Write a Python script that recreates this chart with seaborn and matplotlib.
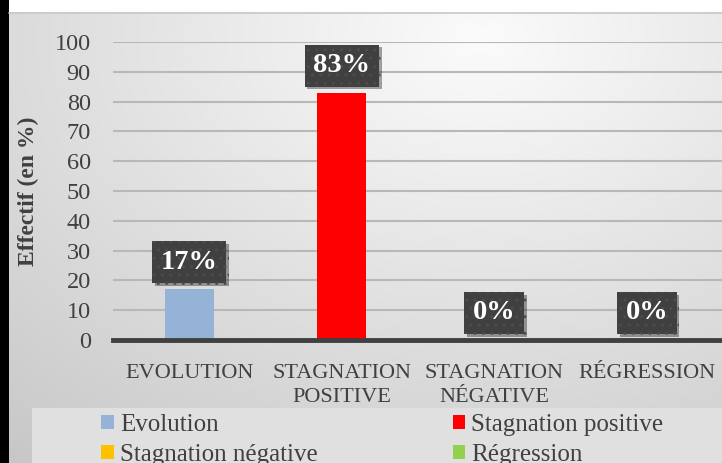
import numpy as np
import pandas as pd
import matplotlib
matplotlib.use("Agg")
import matplotlib.pyplot as plt
import seaborn as sns
from matplotlib import patheffects as pe
from matplotlib.patches import Rectangle

# ---- data ----
categories = ["EVOLUTION", "STAGNATION\nPOSITIVE", "STAGNATION\nNÉGATIVE", "RÉGRESSION"]
series_names = ["Evolution", "Stagnation positive", "Stagnation négative", "Régression"]
values = [17, 83, 0, 0]
value_labels = ["17%", "83%", "0%", "0%"]
colors = ["#95b3d7", "#ff0000", "#ffc000", "#92d050"]
yticks = [0, 10, 20, 30, 40, 50, 60, 70, 80, 90, 100]
ylabel = "Effectif (en %)"

sns.set_theme(style="white")
plt.rcParams["font.family"] = ["Liberation Serif", "DejaVu Serif"]
TXT = "#404040"

W, H = 722, 463
fig = plt.figure(figsize=(W / 100, H / 100), dpi=100)

# background gradient
bg = fig.add_axes([0, 0, 1, 1], zorder=-10)
yy, xx = np.mgrid[0:H, 0:W]
d = np.sqrt(((xx - 480) / 600.0) ** 2 + ((yy - 40) / 420.0) ** 2)
v = 0.985 - 0.16 * np.clip(d, 0, 1.3)
img = np.dstack([v, v, v])
bg.imshow(img, extent=[0, 1, 0, 1], aspect="auto", origin="upper")
bg.set_xlim(0, 1); bg.set_ylim(0, 1)
bg.axis("off")
bg.add_patch(Rectangle((0, 1 - 12 / H), 1, 12 / H, color="white", lw=0))
bg.plot([9 / W, 1], [1 - 12.5 / H, 1 - 12.5 / H], color="#c8c8c8", lw=1.2)
bg.add_patch(Rectangle((0, 0), 9 / W, 1, color="black", lw=0))
# legend band
bg.add_patch(Rectangle((32 / W, 0), 1, (H - 408) / H, color="#e0e0e0", lw=0))

ax = fig.add_axes([113 / W, 123 / H, 610 / W, 298 / H])
ax.patch.set_alpha(0)

df = pd.DataFrame({"cat": categories, "val": values, "serie": series_names})
sns.barplot(data=df, x="cat", y="val", hue="serie", hue_order=series_names,
            palette=colors, dodge=False, width=0.32, saturation=1, ax=ax,
            legend=True, linewidth=0)

ax.set_ylim(0, 100)
ax.set_xlim(-0.5, 3.5)
ax.set_yticks(yticks)
ax.set_xlabel("")
ax.set_ylabel(ylabel, fontsize=17, fontweight="bold", color=TXT)
ax.yaxis.set_label_coords(-0.121, 0.5)
ax.yaxis.grid(True, color="#b8b8b8", lw=1.5)
ax.set_axisbelow(True)
for s in ["top", "right", "left"]:
    ax.spines[s].set_visible(False)
ax.spines["bottom"].set_color(TXT)
ax.spines["bottom"].set_linewidth(3.5)
ax.tick_params(axis="y", length=0, pad=16, labelsize=17.5, labelcolor=TXT)
ax.tick_params(axis="x", length=0, pad=17, labelsize=16, labelcolor=TXT)
for t in ax.get_xticklabels():
    t.set_linespacing(1.4)

# value labels
for i, (val, lab) in enumerate(zip(values, value_labels)):
    t = ax.annotate(lab, xy=(i, val), xytext=(0, 19.5), textcoords="offset points",
                    ha="center", va="center", fontsize=20.5, fontweight="bold",
                    color="white", zorder=5,
                    bbox=dict(boxstyle="square,pad=0.3", facecolor="#404040",
                              edgecolor="#4c4c4c", lw=0, hatch=".."))
    t.get_bbox_patch().set_path_effects([
        pe.SimplePatchShadow(offset=(2, -2), shadow_rgbFace="#000000", alpha=0.35),
        pe.Normal()])

# legend
h, l = ax.get_legend_handles_labels()
ax.get_legend().remove()
order = [0, 2, 1, 3]
fig.legend([h[k] for k in order], [l[k] for k in order], ncol=2,
           loc="upper left", bbox_to_anchor=(96 / W, 1 - 409 / H),
           frameon=False, fontsize=18, labelcolor=TXT,
           handlelength=0.5, handleheight=0.5, handletextpad=0.25,
           columnspacing=5.4, labelspacing=0.3, borderpad=0.2, borderaxespad=0)

fig.savefig("out.png", dpi=100)
